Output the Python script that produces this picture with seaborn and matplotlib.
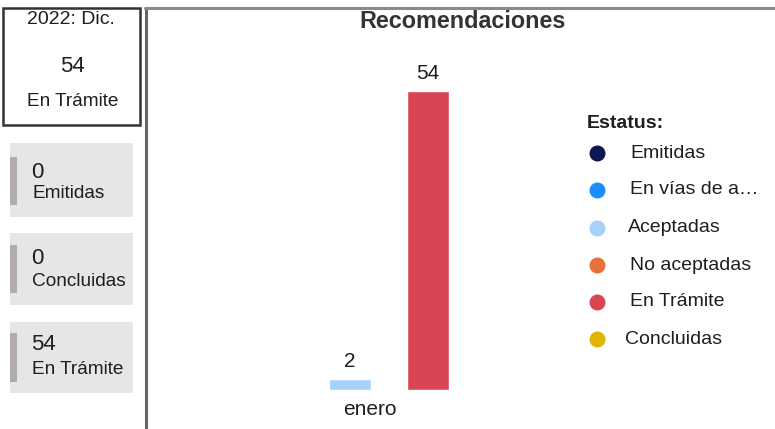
import matplotlib
matplotlib.use("Agg")
import matplotlib.pyplot as plt
from matplotlib.lines import Line2D
from matplotlib.patches import Rectangle
from matplotlib.transforms import ScaledTranslation
import seaborn as sns
import pandas as pd

# ---- data ----
estatus = ["Emitidas", "En vías de atención", "Aceptadas", "No aceptadas", "En Trámite", "Concluidas"]
leyenda = ["Emitidas", "En vías de a…", "Aceptadas", "No aceptadas", "En Trámite", "Concluidas"]
valores_enero = [0, 0, 2, 0, 54, 0]
mes = "enero"
periodo = "2022: Dic."
total_tramite = 54
tarjetas_valores = [0, 0, 54]
tarjetas_etiquetas = ["Emitidas", "Concluidas", "En Trámite"]
colores = ["#0d1552", "#1a8cff", "#a6d1fb", "#e8703a", "#d94552", "#e0b400"]

sns.set_theme(style="white")
plt.rcParams["font.family"] = ["Liberation Sans", "DejaVu Sans"]

W, H = 775, 429
fig = plt.figure(figsize=(W / 100, H / 100), dpi=100)
fig.patch.set_facecolor("white")

def fx(x):
    return x / W

def fy(y):
    return 1 - y / H

TXT = "#1e1e1e"

# ---- bar chart ----
df = pd.DataFrame({"mes": [mes] * len(estatus), "estatus": estatus, "valor": valores_enero})
df = df[df["valor"] > 0]
orden = [e for e in estatus if e in set(df["estatus"])]
pal = {e: c for e, c in zip(estatus, colores)}

ax = fig.add_axes([fx(150), fy(390), fx(410), 330 / H])
sns.barplot(data=df, x="mes", y="valor", hue="estatus", hue_order=orden, palette=pal,
            width=0.8, gap=0.47, dodge=True, legend=False, ax=ax, saturation=1)
ax.set_xlim(-239 / 195, 171 / 195)
ax.set_ylim(0, 54 * 330 / 299)
for c in ax.containers:
    ax.bar_label(c, fmt="%d", padding=6, fontsize=15, color=TXT)
for s in ax.spines.values():
    s.set_visible(False)
ax.set_yticks([])
ax.set_xlabel("")
ax.set_ylabel("")
ax.tick_params(axis="x", length=0, pad=7, labelsize=15, labelcolor=TXT)
for lab in ax.get_xticklabels():
    lab.set_transform(lab.get_transform() + ScaledTranslation(-19 / 100, 0, fig.dpi_scale_trans))
ax.patch.set_alpha(0)

# ---- title ----
fig.text(fx(463), fy(22), "Recomendaciones", ha="center", va="center",
         fontsize=16.8, fontweight="bold", color="#333333")

# ---- panel lines ----
fig.add_artist(Line2D([fx(146), fx(146)], [fy(8), fy(429)], transform=fig.transFigure,
                      color="#666666", lw=2.2))
fig.add_artist(Line2D([fx(145), fx(775)], [fy(8), fy(8)], transform=fig.transFigure,
                      color="#8a8a8a", lw=2.2))

# ---- top-left box ----
fig.add_artist(Rectangle((fx(3), fy(125)), fx(137), (125 - 8) / H, transform=fig.transFigure,
                         facecolor="white", edgecolor="#333333", lw=1.8))
fig.text(fx(71), fy(20), periodo, ha="center", va="center", fontsize=14, color=TXT)
fig.text(fx(72), fy(67), str(total_tramite), ha="center", va="center", fontsize=16, color=TXT)
fig.text(fx(73), fy(101), "En Trámite", ha="center", va="center", fontsize=13.7, color=TXT)

# ---- cards ----
cards = [(143, 217, 157, 205, 172, 193), (233, 305, 245, 293, 259, 282), (322, 393, 333, 382, 345, 369)]
for (t, b, bt, bb, ny, ly), v, lab in zip(cards, tarjetas_valores, tarjetas_etiquetas):
    fig.add_artist(Rectangle((fx(10), fy(b)), fx(123), (b - t) / H, transform=fig.transFigure,
                             facecolor="#e6e6e6", edgecolor="none"))
    fig.add_artist(Rectangle((fx(10), fy(bb)), fx(7), (bb - bt) / H, transform=fig.transFigure,
                             facecolor="#b1acaa", edgecolor="none"))
    fig.text(fx(31), fy(ny), str(v), ha="left", va="center", fontsize=16, color=TXT)
    fig.text(fx(32), fy(ly), lab, ha="left", va="center", fontsize=13.7, color=TXT)

# ---- legend ----
fig.text(fx(587), fy(123), "Estatus:", ha="left", va="center", fontsize=14,
         fontweight="bold", color=TXT)
leg_y = [153, 190, 228, 265, 302, 339]
leg_x = [630, 630, 628, 630, 630, 625]
for yy, xx, lab, col in zip(leg_y, leg_x, leyenda, colores):
    fig.add_artist(Line2D([fx(597)], [fy(yy)], transform=fig.transFigure, marker="o",
                          markersize=10.5, color=col, markeredgecolor=col, linestyle="none"))
    fig.text(fx(xx), fy(yy), lab, ha="left", va="center", fontsize=14, color=TXT)

fig.savefig("out.png", dpi=100)
